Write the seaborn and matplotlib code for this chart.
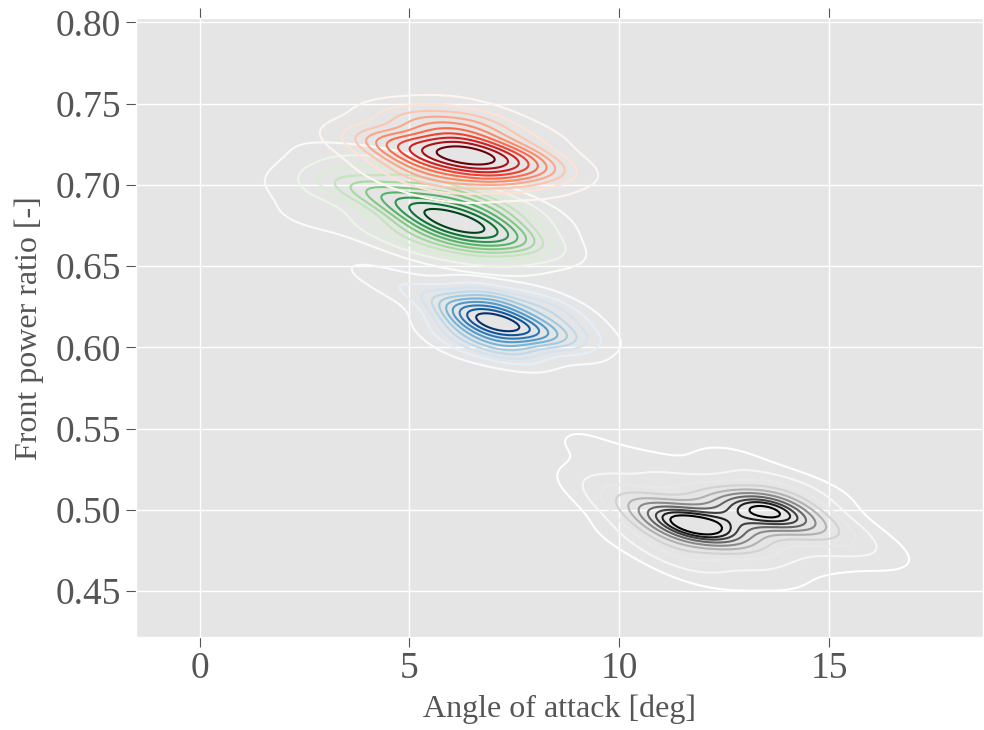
import matplotlib
matplotlib.use("Agg")
import matplotlib.pyplot as plt
import seaborn as sns

# Representative sample points (with weights) for each group
red_x = [6.3, 5.5, 7.1, 6.1, 6.8, 4.6, 7.9, 3.8, 8.6, 5.2, 6.8, 5.4, 4.4, 7.9, 7.9, 4.5,
         6.1, 6.0]
red_y = [0.718, 0.719, 0.717, 0.730, 0.706, 0.725, 0.712, 0.729, 0.709, 0.741, 0.738, 0.705,
         0.742, 0.728, 0.700, 0.711, 0.698, 0.747]
red_w = [2.2, 1.8, 1.8, 1.4, 1.2, 1.2, 1.0, 0.5, 0.4, 0.8, 0.8, 0.8, 0.3, 0.5, 0.35, 0.4,
         0.4, 0.35]

green_x = [6.1, 5.5, 6.8, 6.1, 6.2, 4.7, 7.5, 3.9, 3.1, 2.4, 3.2, 4.6, 4.6, 5.5, 7.0, 7.1,
           2.5, 8.0, 5.5, 7.9]
green_y = [0.677, 0.681, 0.673, 0.690, 0.665, 0.691, 0.667, 0.698, 0.701, 0.695, 0.716, 0.710,
           0.672, 0.661, 0.656, 0.688, 0.679, 0.663, 0.703, 0.679]
green_w = [2.2, 1.6, 1.5, 1.2, 1.0, 1.2, 0.8, 0.8, 0.5, 0.35, 0.4, 0.6, 0.8, 0.5, 0.4, 0.8,
           0.3, 0.25, 0.6, 0.35]

blue_x = [7.1, 6.6, 7.7, 7.1, 7.2, 6.1, 8.5, 6.1, 8.5, 7.5, 6.7, 5.2, 9.2, 4.4, 3.7, 6.4,
          8.0, 9.0]
blue_y = [0.615, 0.618, 0.612, 0.626, 0.604, 0.626, 0.607, 0.610, 0.621, 0.595, 0.634, 0.634,
          0.608, 0.642, 0.650, 0.600, 0.630, 0.596]
blue_w = [1.8, 1.5, 1.5, 1.1, 1.1, 0.7, 0.8, 0.6, 0.7, 0.5, 0.45, 0.4, 0.35, 0.2, 0.12, 0.4,
          0.35, 0.2]

grey_x = [11.4, 11.9, 12.3, 13.2, 13.7, 12.7, 13.5, 10.8, 14.3, 10.2, 15.0, 11.4, 13.1,
          12.0, 13.8, 15.8, 16.4, 9.5, 10.7, 12.6, 13.6, 14.7, 9.2, 8.6, 8.2, 11.8, 14.8,
          10.3, 12.5]
grey_y = [0.493, 0.489, 0.486, 0.501, 0.498, 0.494, 0.504, 0.500, 0.492, 0.507, 0.486, 0.476,
          0.478, 0.510, 0.514, 0.477, 0.468, 0.518, 0.526, 0.530, 0.460, 0.470, 0.540, 0.562,
          0.577, 0.465, 0.507, 0.486, 0.456]
grey_w = [2.1, 2.3, 1.3, 1.9, 1.9, 1.3, 0.9, 1.2, 1.2, 0.7, 0.7, 0.8, 0.8,
          0.8, 0.6, 0.3, 0.15, 0.4, 0.4, 0.35, 0.35, 0.3, 0.25, 0.18, 0.12, 0.3, 0.25,
          0.3, 0.15]

x_ticks = [0, 5, 10, 15]
y_ticks = [0.45, 0.50, 0.55, 0.60, 0.65, 0.70, 0.75, 0.80]
levels = [0.05, 0.145, 0.24, 0.335, 0.43, 0.525, 0.62, 0.715, 0.81, 0.905]

plt.style.use("ggplot")
plt.rcParams["font.family"] = ["Liberation Serif", "DejaVu Serif"]

fig = plt.figure(figsize=(9.84, 7.3), dpi=100)
ax = fig.add_axes([0.138, 0.127, 0.861, 0.848])

groups = [(grey_x, grey_y, grey_w, "Greys", 0.5), (blue_x, blue_y, blue_w, "Blues", 0.65),
          (green_x, green_y, green_w, "Greens", 0.65), (red_x, red_y, red_w, "Reds", 0.65)]
for xs, ys, ws, cmap, bw in groups:
    sns.kdeplot(x=xs, y=ys, weights=ws, cmap=cmap, bw_method=bw, levels=levels,
                linewidths=1.5, ax=ax)

ax.set_xlim(-1.52, 18.67)
ax.set_ylim(0.4215, 0.8025)
ax.set_xticks(x_ticks)
ax.set_yticks(y_ticks)
ax.set_yticklabels([f"{v:.2f}" for v in y_ticks])
ax.tick_params(axis="both", which="major", labelsize=27, direction="out",
               length=7, color="#555555", labelcolor="#555555", top=True, right=True)
ax.set_xlabel("Angle of attack [deg]", fontsize=23, color="#555555", labelpad=6)
ax.set_ylabel("Front power ratio [-]", fontsize=23, color="#555555", labelpad=8)
ax.grid(True, color="white", linewidth=1)

fig.savefig("out.png", dpi=100)
